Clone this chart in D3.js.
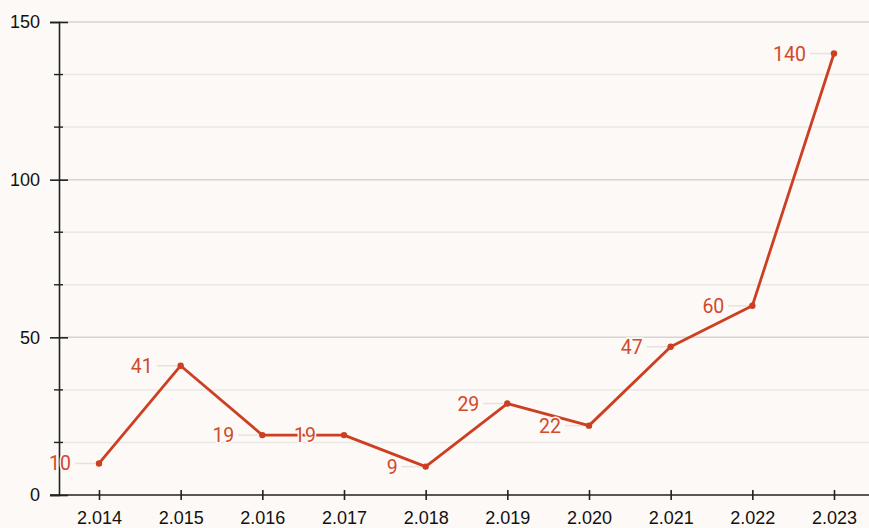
<!DOCTYPE html>
<html>
<head>
<meta charset="utf-8">
<script src="https://cdn.jsdelivr.net/npm/d3@7"></script>
<style>
  body { margin: 0; background: #fdf9f6; }
  svg { display: block; }
</style>
</head>
<body>
<svg id="chart" width="869" height="528"></svg>
<script>
// data
let years = ['2.014', '2.015', '2.016', '2.017', '2.018', '2.019', '2.020', '2.021', '2.022', '2.023']
let values = [10, 41, 19, 19, 9, 29, 22, 47, 60, 140]
let yMajor = [0, 50, 100, 150]

let svg = d3.select('#chart')
let width = 869
let left = 59
let lineColor = '#cc3f22'

let xScale = d3.scalePoint()
    .domain(years)
    .range([99, 834])

let yScale = d3.scaleLinear()
    .domain([0, 150])
    .range([495, 22])

let yMinor = d3.range(0, 150.01, 50 / 3)
    .filter(v => Math.abs(v % 50) > 0.01 && Math.abs(v % 50 - 50) > 0.01)

// minor grid
svg.append('g')
    .selectAll('line')
    .data(yMinor)
    .join('line')
    .attr('x1', left).attr('x2', width)
    .attr('y1', d => yScale(d)).attr('y2', d => yScale(d))
    .attr('stroke', '#ebe7e4')
    .attr('stroke-width', 1.5)

// major grid
svg.append('g')
    .selectAll('line')
    .data(yMajor.filter(d => d > 0))
    .join('line')
    .attr('x1', left).attr('x2', width)
    .attr('y1', d => yScale(d)).attr('y2', d => yScale(d))
    .attr('stroke', '#d6d3d1')
    .attr('stroke-width', 1.5)

// y axis
let yAxisGen = d3.axisLeft(yScale)
    .tickValues(yMajor)
    .tickSize(9)
    .tickPadding(10)
    .tickFormat(d3.format('d'))

let yAxis = svg.append('g')
    .attr('transform', `translate(${left}, 0)`)
    .call(yAxisGen)
yAxis.select('.domain').attr('stroke', '#222').attr('stroke-width', 1.6)
yAxis.selectAll('.tick line').attr('x1', 9).attr('stroke', '#222').attr('stroke-width', 1.6)
yAxis.selectAll('text')
    .attr('fill', '#111')
    .style('font-family', '"Liberation Sans", Arial, sans-serif')
    .style('font-size', '18px')

// y minor ticks
svg.append('g')
    .selectAll('line')
    .data(yMinor)
    .join('line')
    .attr('x1', left - 5).attr('x2', left + 4)
    .attr('y1', d => yScale(d)).attr('y2', d => yScale(d))
    .attr('stroke', '#222')
    .attr('stroke-width', 1.4)

// x axis
let xAxisGen = d3.axisBottom(xScale)
    .tickSize(5)
    .tickPadding(11)

let xAxis = svg.append('g')
    .attr('transform', `translate(0, ${yScale(0)})`)
    .call(xAxisGen)
xAxis.select('.domain').remove()
xAxis.append('line')
    .attr('x1', left - 9).attr('x2', width)
    .attr('stroke', '#222').attr('stroke-width', 1.6)
xAxis.selectAll('.tick line').attr('y1', -5).attr('stroke', '#222').attr('stroke-width', 1.6)
xAxis.selectAll('text')
    .attr('fill', '#111')
    .style('font-family', '"Liberation Sans", Arial, sans-serif')
    .style('font-size', '18px')

let points = years.map((y, i) => ({ year: y, value: values[i] }))

// leader lines
svg.append('g')
    .selectAll('line')
    .data(points)
    .join('line')
    .attr('x1', d => xScale(d.year) - 24).attr('x2', d => xScale(d.year))
    .attr('y1', d => yScale(d.value)).attr('y2', d => yScale(d.value))
    .attr('stroke', '#e6e2df')
    .attr('stroke-width', 1.5)

// line
let lineGen = d3.line()
    .x(d => xScale(d.year))
    .y(d => yScale(d.value))

svg.append('path')
    .datum(points)
    .attr('d', lineGen)
    .attr('fill', 'none')
    .attr('stroke', lineColor)
    .attr('stroke-width', 2.8)
    .attr('stroke-linejoin', 'round')

svg.append('g')
    .selectAll('circle')
    .data(points)
    .join('circle')
    .attr('cx', d => xScale(d.year))
    .attr('cy', d => yScale(d.value))
    .attr('r', 3.2)
    .attr('fill', lineColor)

// value labels
svg.append('g')
    .selectAll('text')
    .data(points)
    .join('text')
    .attr('x', d => xScale(d.year) - 28)
    .attr('y', d => yScale(d.value))
    .attr('dy', '0.36em')
    .attr('text-anchor', 'end')
    .attr('fill', '#d04a2b')
    .attr('stroke', '#fdf9f6')
    .attr('stroke-width', 3)
    .attr('paint-order', 'stroke')
    .style('font-family', 'Roboto, sans-serif')
    .style('font-size', '19.5px')
    .text(d => d.value)
</script>
</body>
</html>
